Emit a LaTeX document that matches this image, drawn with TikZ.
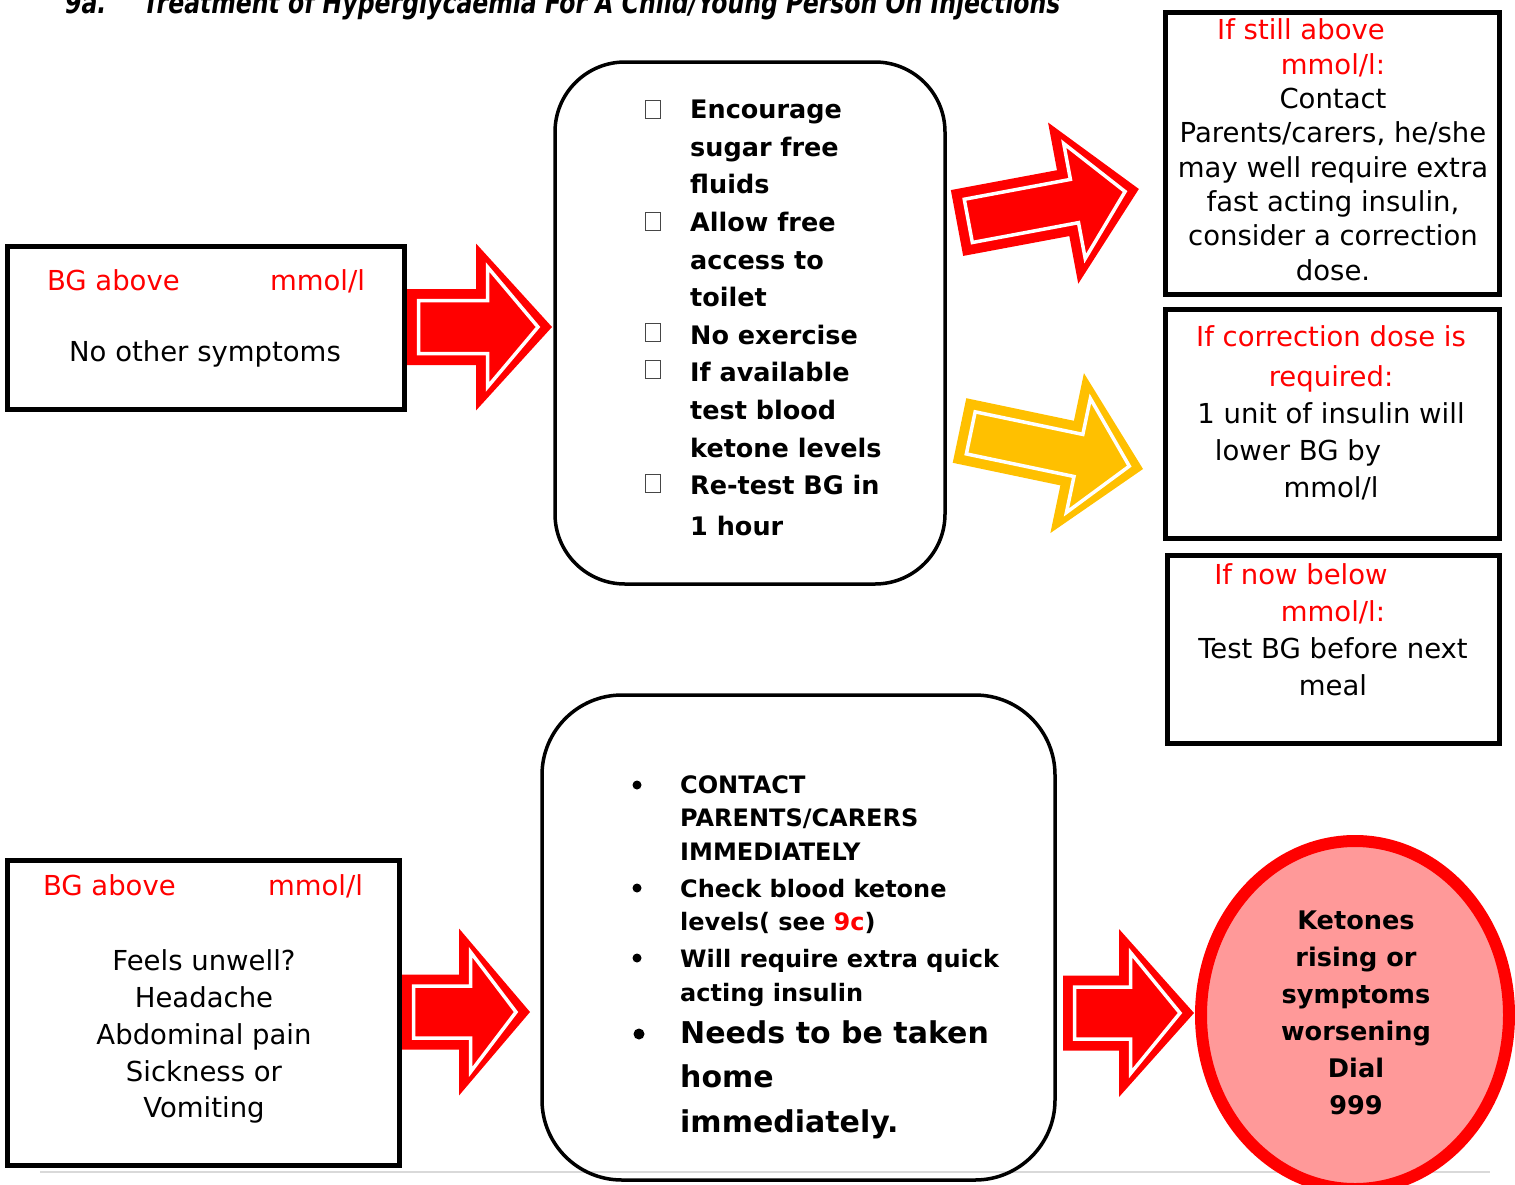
\documentclass[tikz,border=0pt]{standalone}
\usepackage{fontspec}
\setmainfont{DejaVu Sans}
\usepackage{graphicx}
\usetikzlibrary{shapes.geometric}
\definecolor{arrred}{RGB}{255,0,0}
\definecolor{arryel}{RGB}{255,192,0}
\definecolor{circfill}{RGB}{255,153,153}
\definecolor{rulegray}{RGB}{217,217,217}
\definecolor{cbgray}{RGB}{70,70,70}
\begin{document}
\begin{tikzpicture}[x=1pt,y=-1pt,
  reg/.style={font=\fontsize{27.5}{34.3}\selectfont, inner sep=0pt, outer sep=0pt},
  sqbox/.style={draw=black, line width=5pt, inner sep=0pt, rectangle},
  rbox/.style={draw=black, line width=3.5pt, inner sep=0pt, rectangle},
  cbox/.style={draw=cbgray, line width=1pt, inner sep=0pt, minimum width=15pt, minimum height=18pt},
  bul/.style={circle, fill=black, inner sep=0pt, minimum size=#1},
  pics/blockarrow/.style n args={5}{code={
    \fill[#5] (0,-#4) -- (#2,-#4) -- (#2,-#3) -- (#1,0) -- (#2,#3) -- (#2,#4) -- (0,#4) -- cycle;
    \draw[white, line width=3.5pt, line join=miter]
      (11.5,{-(#4-11.5)}) -- ({#2+11.5},{-(#4-11.5)}) -- ({#2+11.5},{-(#3-23.5)}) -- ({#1-14},0)
      -- ({#2+11.5},{#3-23.5}) -- ({#2+11.5},{#4-11.5}) -- (11.5,{#4-11.5}) -- cycle;
  }}
]
\useasboundingbox (0,0) rectangle (1515,1184);

% page rule
\coordinate (ru1) at (40,1172);
\coordinate (ru2) at (1490,1172);
\draw[rulegray, line width=1.5pt] (ru1) -- (ru2);

% title
\node[anchor=base west, inner sep=0pt, font=\bfseries\itshape\fontsize{30}{30}\selectfont] (tnum) at (65,13) {\scalebox{0.785}[1]{9a.}};
\node[anchor=base west, inner sep=0pt, font=\bfseries\itshape\fontsize{30}{30}\selectfont] (ttl) at (143,13) {\scalebox{0.785}[1]{Treatment of Hyperglycaemia For A Child/Young Person On Injections}};

% arrows
\pic (a1) at (407,327) {blockarrow={145}{69}{83.5}{38}{arrred}};
\pic[rotate=10.6, transform shape] (a2) at (957,223) {blockarrow={185}{108}{82}{33.5}{arrred}};
\pic[rotate=-11.85, transform shape] (a3) at (959.5,430.5) {blockarrow={187.5}{110}{81.7}{33}{arryel}};
\pic (a4) at (402,1012) {blockarrow={128}{57}{83.5}{37.5}{arrred}};
\pic (a5) at (1063,1013) {blockarrow={131}{56}{84}{37.5}{arrred}};

% boxes
\node[sqbox, minimum width=397pt, minimum height=163pt] (tl) at (206,328) {};
\node[sqbox, minimum width=392pt, minimum height=305pt] (bl) at (203.5,1013) {};
\node[sqbox, minimum width=334pt, minimum height=282pt] (r1) at (1332.5,153.5) {};
\node[sqbox, minimum width=334pt, minimum height=229pt] (r2) at (1332.5,424) {};
\node[sqbox, minimum width=332pt, minimum height=188pt] (r3) at (1333.5,649.5) {};
\node[rbox, minimum width=390pt, minimum height=522pt, rounded corners=70pt] (tm) at (750,323) {};
\node[rbox, minimum width=513pt, minimum height=485pt, rounded corners=80pt] (bm) at (798.5,937.5) {};
\node[ellipse, draw=arrred, fill=circfill, line width=12pt, minimum width=308pt, minimum height=348pt, inner sep=0pt] (circ) at (1355,1015) {};

% top-left box text
\node[reg, text=arrred, anchor=base west] (tlh1) at (47,290) {BG above};
\node[reg, text=arrred, anchor=base east] (tlh2) at (365,290) {mmol/l};
\node[reg, anchor=base] (tlt) at (205,361) {No other symptoms};

% bottom-left box text
\node[reg, text=arrred, anchor=base west] (blh1) at (43,895) {BG above};
\node[reg, text=arrred, anchor=base east] (blh2) at (363,895) {mmol/l};
\node[reg, align=center, anchor=north, font=\fontsize{27.5}{36.7}\selectfont] (blt) at (204,950)
  {Feels unwell?\\Headache\\Abdominal pain\\Sickness or\\Vomiting};

% right boxes text
\node[reg, align=center, anchor=north] (r1t) at (1333,19)
  {\textcolor{arrred}{If still above\rule{64pt}{0pt}}\\\textcolor{arrred}{mmol/l:}\\Contact\\Parents/carers, he/she\\may well require extra\\fast acting insulin,\\consider a correction\\dose.};
\node[reg, align=center, anchor=north, font=\fontsize{27.5}{37}\selectfont] (r2t) at (1331,326)
  {\textcolor{arrred}{If correction dose is}\\[3pt]\textcolor{arrred}{required:}\\1 unit of insulin will\\lower BG by\rule{66pt}{0pt}\\mmol/l};
\node[reg, align=center, anchor=north, font=\fontsize{27.5}{37}\selectfont] (r3t) at (1333,564)
  {\textcolor{arrred}{If now below\rule{64pt}{0pt}}\\\textcolor{arrred}{mmol/l:}\\Test BG before next\\meal};

% top middle checklist
\node[anchor=north west, align=left, inner sep=0pt, font=\bfseries\fontsize{25.5}{37.6}\selectfont] (tmt) at (690,100)
  {Encourage\\sugar free\\fluids\\Allow free\\access to\\toilet\\No exercise\\If available\\test blood\\ketone levels\\Re-test BG in\\[3pt]1 hour};
\node[cbox] (cb1) at (653,109) {};
\node[cbox] (cb2) at (653,221) {};
\node[cbox] (cb3) at (653,332.5) {};
\node[cbox] (cb4) at (653,369.5) {};
\node[cbox] (cb5) at (653,483) {};

% bottom middle list
\node[anchor=north west, align=left, inner sep=0pt, font=\bfseries\fontsize{24}{33.5}\selectfont] (bmt) at (680,775)
  {CONTACT\\PARENTS/CARERS\\IMMEDIATELY\\[3.5pt]Check blood ketone\\levels( see \textcolor{arrred}{9c})\\[3.5pt]Will require extra quick\\acting insulin};
\node[anchor=north west, align=left, inner sep=0pt, font=\bfseries\fontsize{30}{44.5}\selectfont] (bmt2) at (680,1020)
  {Needs to be taken\\home\\immediately.};
\node[bul=9pt] (b1) at (637,785) {};
\node[bul=9pt] (b2) at (637,888) {};
\node[bul=9pt] (b3) at (637,958) {};
\node[bul=11pt] (b4) at (639,1034) {};

% circle text
\node[anchor=north, align=center, inner sep=0pt, font=\bfseries\fontsize{25.6}{37}\selectfont] (circt) at (1356,911)
  {Ketones\\rising or\\symptoms\\worsening\\Dial\\999};
\end{tikzpicture}
\end{document}
